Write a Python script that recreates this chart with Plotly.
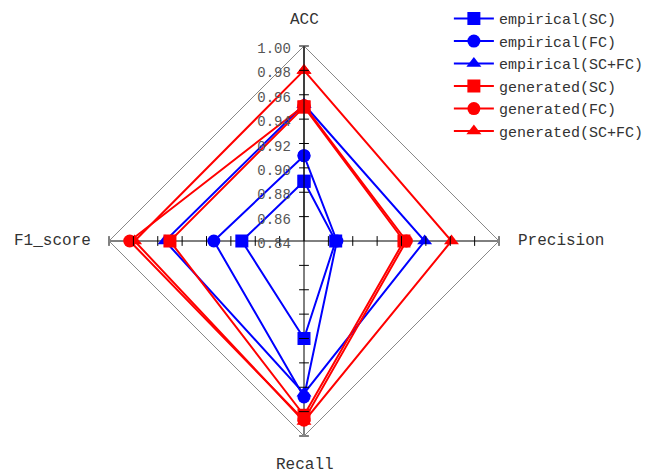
import plotly.graph_objects as go

categories = ["ACC", "Precision", "Recall", "F1_score"]
series_names = ["empirical(SC)", "empirical(FC)", "empirical(SC+FC)",
                "generated(SC)", "generated(FC)", "generated(SC+FC)"]
emp_sc = [0.889, 0.866, 0.920, 0.891]
emp_fc = [0.910, 0.867, 0.968, 0.914]
emp_scfc = [0.952, 0.939, 0.965, 0.954]
gen_sc = [0.950, 0.922, 0.983, 0.950]
gen_fc = [0.951, 0.924, 0.987, 0.983]
gen_scfc = [0.980, 0.961, 0.988, 0.979]
tick_vals = [0.84, 0.86, 0.88, 0.90, 0.92, 0.94, 0.96, 0.98, 1.00]
tick_text = ["0.84", "0.86", "0.88", "0.90", "0.92", "0.94", "0.96", "0.98", "1.00"]

values = [emp_sc, emp_fc, emp_scfc, gen_sc, gen_fc, gen_scfc]
colors = ["#0000FF", "#0000FF", "#0000FF", "#FF0000", "#FF0000", "#FF0000"]
symbols = ["square", "circle", "triangle-up", "square", "circle", "triangle-up"]

W, H = 665, 474
FONT = "Liberation Mono"
fig = go.Figure()

for name, v, c, s in zip(series_names, values, colors, symbols):
    fig.add_trace(go.Scatterpolar(
        r=v + v[:1], theta=categories + categories[:1], mode="lines+markers",
        name=name, line=dict(color=c, width=2),
        marker=dict(symbol=s, size=13, color=c)))

# tick marks on every axis
for cat, sym in [("ACC", "line-ew"), ("Precision", "line-ns"), ("Recall", "line-ew"), ("F1_score", "line-ns")]:
    fig.add_trace(go.Scatterpolar(
        r=tick_vals[1:], theta=[cat] * (len(tick_vals) - 1), mode="markers",
        marker=dict(symbol=sym, size=7, line=dict(color="black", width=1)),
        showlegend=False, hoverinfo="skip"))

# axis name labels (pixel positions -> paper)
label_pos = [(304.5, 20), (561, 241), (304.5, 465), (52, 241)]
annotations = [dict(text=cat, x=px / W, y=1 - py / H, xref="paper", yref="paper",
                    showarrow=False, xanchor="center", yanchor="middle",
                    font=dict(family=FONT, size=16, color="#333333"))
               for cat, (px, py) in zip(categories, label_pos)]

fig.update_layout(
    width=W, height=H, margin=dict(l=0, r=0, t=0, b=0),
    paper_bgcolor="white", plot_bgcolor="white",
    font=dict(family=FONT, color="#333333", size=15),
    annotations=annotations,
    polar=dict(
        domain=dict(x=[109 / W, 499 / W], y=[1 - 436 / H, 1 - 46 / H]),
        bgcolor="white", gridshape="linear",
        radialaxis=dict(range=[0.84, 1.00], tickvals=tick_vals, ticktext=tick_text,
                        angle=90, side="counterclockwise", ticks="",
                        showgrid=False, showline=True,
                        linecolor="black", linewidth=1,
                        tickfont=dict(family=FONT, size=14, color="#555555")),
        angularaxis=dict(rotation=90, direction="clockwise", showgrid=True,
                         categoryorder="array", categoryarray=categories,
                         gridcolor="black", gridwidth=1, showline=True,
                         linecolor="#888888", linewidth=1, ticks="",
                         showticklabels=False),
    ),
    legend=dict(x=0.675, y=0.995, xanchor="left", yanchor="top",
                font=dict(family=FONT, size=15, color="#333333"),
                itemwidth=40,
                bgcolor="rgba(0,0,0,0)", tracegroupgap=0),
)

fig.write_html("out.html")
